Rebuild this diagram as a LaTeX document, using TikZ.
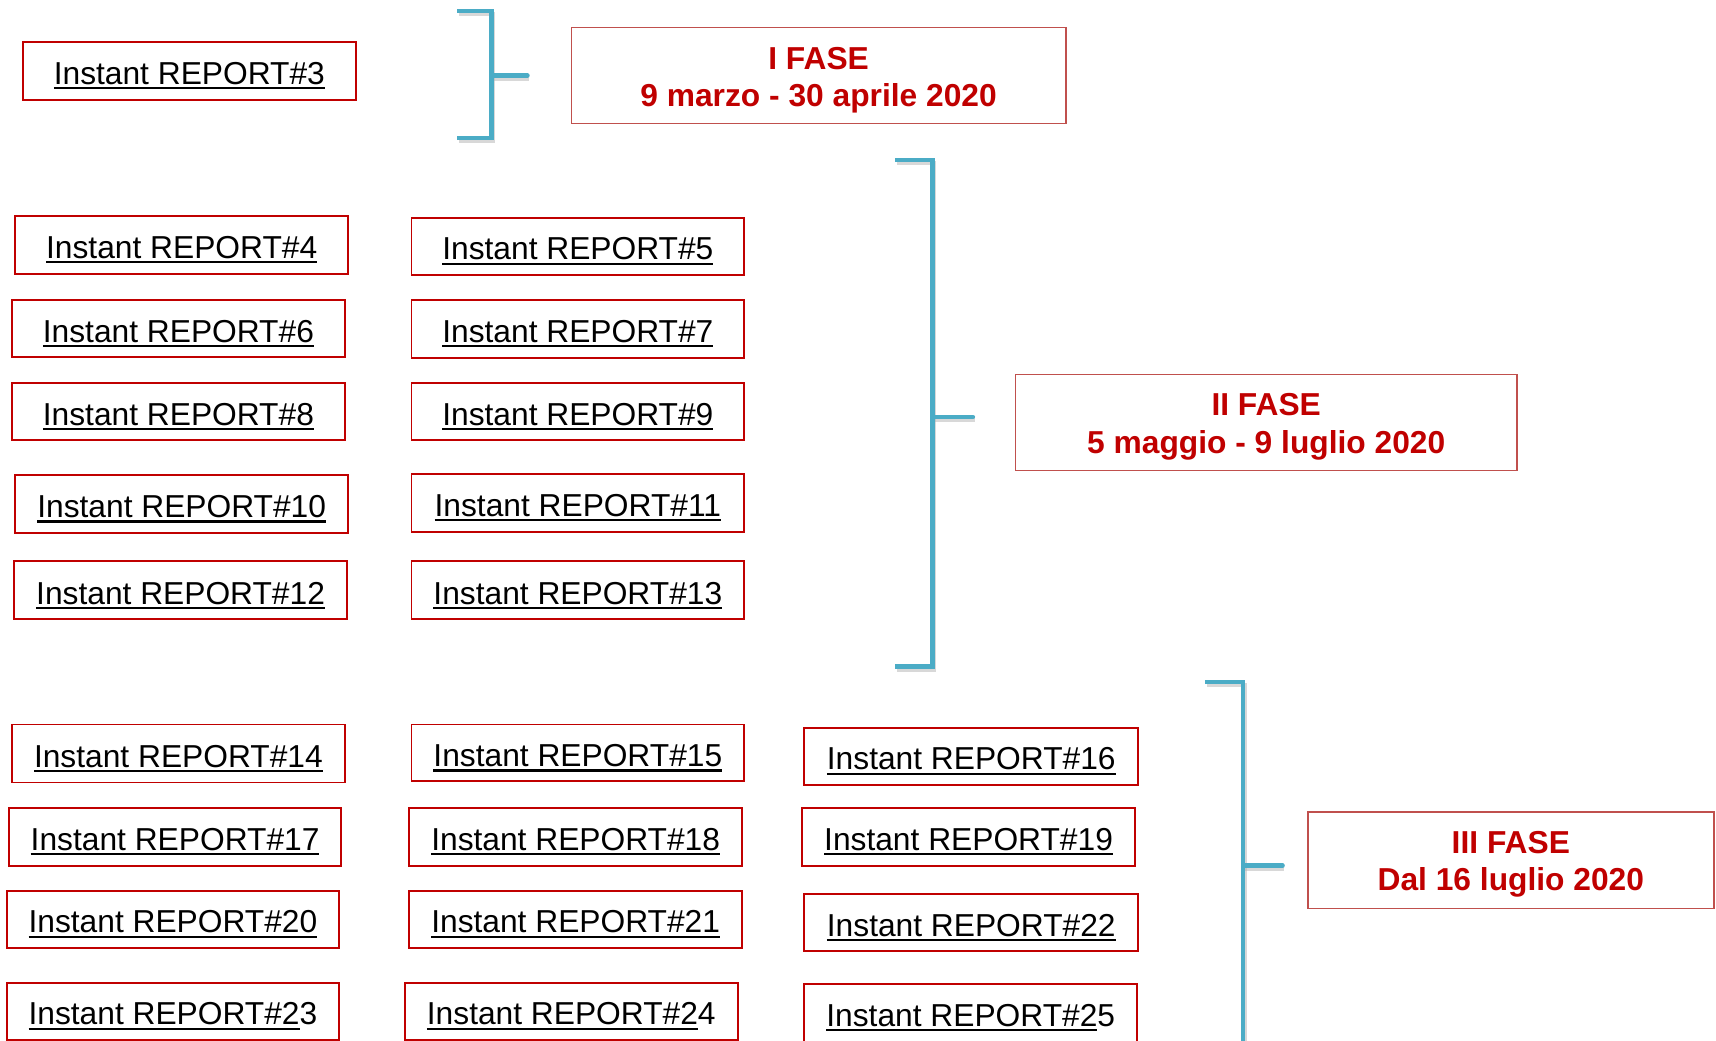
\documentclass[tikz,border=0pt]{standalone}
\usepackage{fontspec}
\setmainfont{Liberation Sans}
\definecolor{boxred}{HTML}{C00000}
\definecolor{faseborder}{HTML}{C0504D}
\definecolor{brk}{HTML}{4BACC6}
\newcommand\ulx[1]{\leavevmode\setbox0\hbox{#1}\rlap{\raisebox{-4.5pt}{\rule{\wd0}{2pt}}}\box0\relax}
\newcommand\rbox[6]{%
  \node[rep, minimum width={#4-#2}, minimum height={#5-#3}] (#1) at ({(#2+#4)/2},{(#3+#5)/2}) {#6};}
\newcommand\fasebox[7]{%
  \node[fase, minimum width={#4-#2}, minimum height={#5-#3}] (#1) at ({(#2+#4)/2},{(#3+#5)/2}) {};
  \node[fasetext] (#1t) at ([yshift=-4pt]#1.center) {#6\\#7};}
\begin{document}
\begin{tikzpicture}[x=1pt,y=-1pt,
  rep/.style={draw=boxred, line width=1.8pt, rectangle, inner sep=0pt,
    font=\fontsize{29}{34}\selectfont, text=black, text height=25pt, text depth=0pt},
  fase/.style={draw=faseborder, line width=1.4pt, rectangle, inner sep=0pt},
  fasetext/.style={inner sep=0pt, align=center,
    font=\fontsize{29}{34}\selectfont\bfseries, text=boxred},
  brace/.style={draw=brk, line width=4pt, line join=miter},
  tick/.style={draw=brk, line width=4pt, line cap=round},
  braceshadow/.style={draw=black!30, line width=4pt, opacity=0.5}]
\useasboundingbox (0,0) rectangle (1568,951);
\fill[white] (0,0) rectangle (1568,951);

% brackets (shadow first)
\draw[braceshadow, shift={(1.5,3)}] (418,10) -- (449,10) -- (449,126) -- (418,126);
\draw[braceshadow, shift={(1.5,3)}] (818,146) -- (852,146) -- (852,609) -- (818,609);
\draw[braceshadow, shift={(1.5,3)}] (1101,623) -- (1136,623) -- (1136,960);
\draw[braceshadow, shift={(1.5,3)}] (449,69) -- (482,69);
\draw[braceshadow, shift={(1.5,3)}] (852,381) -- (889,381);
\draw[braceshadow, shift={(1.5,3)}] (1136,791) -- (1172,791);

\coordinate (b1t) at (418,10); \coordinate (b1b) at (418,126);
\coordinate (b1m) at (449,69); \coordinate (b1e) at (482,69);
\coordinate (b2t) at (818,146); \coordinate (b2b) at (818,609);
\coordinate (b2m) at (852,381); \coordinate (b2e) at (889,381);
\coordinate (b3t) at (1101,623); \coordinate (b3b) at (1136,960);
\coordinate (b3m) at (1136,791); \coordinate (b3e) at (1172,791);

\draw[brace] (b1t) -- (449,10) -- (449,126) -- (b1b);
\draw[tick] (b1m) -- (b1e);
\draw[brace] (b2t) -- (852,146) -- (852,609) -- (b2b);
\draw[tick] (b2m) -- (b2e);
\draw[brace] (b3t) -- (1136,623) -- (b3b);
\draw[tick] (b3m) -- (b3e);

% fase boxes
\fasebox{f1}{522}{25}{974}{113}{I FASE}{9 marzo - 30 aprile 2020}
\fasebox{f2}{928}{342}{1386}{430}{II FASE}{5 maggio - 9 luglio 2020}
\fasebox{f3}{1195}{742}{1566}{830}{III FASE}{Dal 16 luglio 2020}

% report boxes
\rbox{r3}{21}{38}{325}{91}{\ulx{Instant REPORT\#3}}
\rbox{r4}{14}{197}{318}{250}{\ulx{Instant REPORT\#4}}
\rbox{r5}{376}{199}{680}{251}{\ulx{Instant REPORT\#5}}
\rbox{r6}{11}{274}{315}{326}{\ulx{Instant REPORT\#6}}
\rbox{r7}{376}{274}{680}{327}{\ulx{Instant REPORT\#7}}
\rbox{r8}{11}{350}{315}{402}{\ulx{Instant REPORT\#8}}
\rbox{r9}{376}{350}{680}{402}{\ulx{Instant REPORT\#9}}
\rbox{r10}{14}{434}{318}{487}{\ulx{Instant REPORT\#10}}
\rbox{r11}{376}{433}{680}{486}{\ulx{Instant REPORT\#11}}
\rbox{r12}{13}{513}{317}{566}{\ulx{Instant REPORT\#12}}
\rbox{r13}{376}{513}{680}{566}{\ulx{Instant REPORT\#13}}
\rbox{r14}{11}{662}{315}{715}{\ulx{Instant REPORT\#14}}
\rbox{r15}{376}{662}{680}{714}{\ulx{Instant REPORT\#15}}
\rbox{r16}{735}{665}{1040}{717}{\ulx{Instant REPORT\#16}}
\rbox{r17}{8}{738}{312}{791}{\ulx{Instant REPORT\#17}}
\rbox{r18}{374}{738}{678}{791}{\ulx{Instant REPORT\#18}}
\rbox{r19}{733}{738}{1037}{791}{\ulx{Instant REPORT\#19}}
\rbox{r20}{6}{814}{310}{866}{\ulx{Instant REPORT\#20}}
\rbox{r21}{374}{814}{678}{866}{\ulx{Instant REPORT\#21}}
\rbox{r22}{735}{817}{1040}{869}{\ulx{Instant REPORT\#22}}
\rbox{r23}{6}{898}{310}{950}{\ulx{Instant REPORT\#2}3}
\rbox{r24}{370}{898}{674}{950}{\ulx{Instant REPORT\#2}4}
\rbox{r25}{735}{899}{1039}{952}{\ulx{Instant REPORT\#2}5}
\end{tikzpicture}
\end{document}
